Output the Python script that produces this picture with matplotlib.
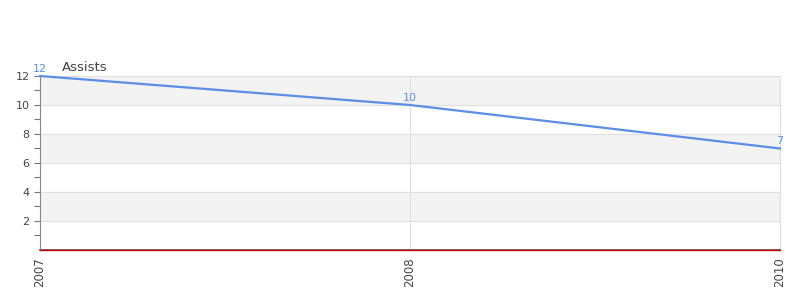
import numpy as np
import matplotlib
matplotlib.use("Agg")
import matplotlib.pyplot as plt

years = ["2007", "2008", "2010"]
assists = [12, 10, 7]
baseline = [0, 0, 0]

fig = plt.figure(figsize=(8, 3), dpi=100)
ax = fig.add_axes([0.05, 0.1667, 0.925, 0.58])

x = np.arange(len(years))
ax.set_xlim(0, len(years) - 1)
ax.set_ylim(0, 12)

# alternating bands
for lo in (2, 6, 10):
    ax.axhspan(lo, lo + 2, color="#f3f3f3", zorder=0)
for y in range(2, 13, 2):
    ax.axhline(y, color="#e0e0e0", lw=0.8, zorder=1)
for xi in x[1:]:
    ax.axvline(xi, color="#e0e0e0", lw=0.8, zorder=1, clip_on=False)

ax.plot(x, baseline, color="#cc0000", lw=1.0, zorder=3, clip_on=False)
ax.plot(x, assists, color="#5b8ee6", lw=1.6, zorder=4, clip_on=False)

for xi, v in zip(x, assists):
    ax.text(xi, v + 0.15, str(v), color="#5b8ee6", fontsize=8, ha="center", va="bottom")

ax.text(0.03, 1.01, "Assists", transform=ax.transAxes, fontsize=9.5, color="#444444", va="bottom")

ax.set_yticks(range(2, 13, 2))
ax.set_yticks(range(1, 13, 2), minor=True)
ax.tick_params(axis="y", which="both", colors="#777777", labelcolor="#444444", labelsize=8, length=4, width=0.8)
ax.set_xticks(x)
ax.set_xticklabels(years, rotation=90, fontsize=8.5, color="#444444")
ax.tick_params(axis="x", length=0, pad=5)

for s in ("top", "right"):
    ax.spines[s].set_visible(False)
ax.spines["left"].set_color("#888888")
ax.spines["bottom"].set_color("#555555")
ax.spines["bottom"].set_linewidth(1.2)
ax.spines["bottom"].set_zorder(2)

fig.savefig("out.png", dpi=100)
